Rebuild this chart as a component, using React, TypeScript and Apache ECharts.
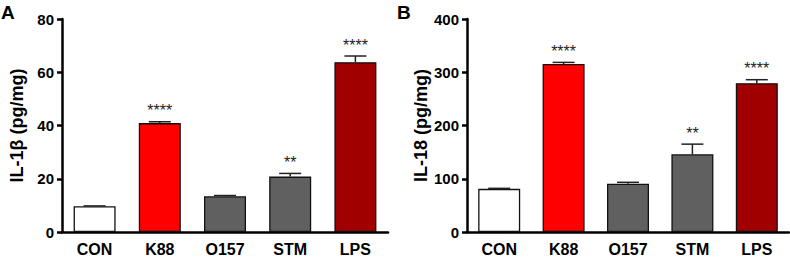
import React, { useEffect, useRef } from "react";
import * as echarts from "echarts";

const categories = ["CON", "K88", "O157", "STM", "LPS"];
const il1bMean = [9.7, 40.9, 13.4, 20.8, 63.8];
const il1bErr = [0.1, 0.5, 0.3, 1.2, 2.3];
const il1bSig = ["", "****", "", "**", "****"];
const il18Mean = [81, 315.5, 90.7, 146, 279.5];
const il18Err = [1, 3, 2.6, 19, 6.5];
const il18Sig = ["", "****", "", "**", "****"];
const barColors = ["#ffffff", "#ff0000", "#606060", "#606060", "#a00000"];

const FONT = "'Liberation Sans', Arial, sans-serif";

function barSeries(idx: number, means: number[]) {
  return {
    type: "bar",
    xAxisIndex: idx,
    yAxisIndex: idx,
    barWidth: 42,
    data: means.map((v, i) => ({
      value: v,
      itemStyle: { color: barColors[i], borderColor: "#111", borderWidth: 1.3 },
    })),
    z: 2,
  };
}

function errSeries(idx: number, means: number[], errs: number[], sigs: string[]) {
  return {
    type: "custom",
    xAxisIndex: idx,
    yAxisIndex: idx,
    z: 3,
    data: means.map((m, i) => [i, m, m + errs[i]]),
    renderItem: (params: any, api: any) => {
      const x = api.value(0);
      const lo = api.coord([x, api.value(1)]);
      const hi = api.coord([x, api.value(2)]);
      const sig = sigs[params.dataIndex];
      const half = 11;
      const children: any[] = [
        {
          type: "line",
          shape: { x1: lo[0], y1: lo[1], x2: hi[0], y2: hi[1] },
          style: { stroke: "#222", lineWidth: 1.5 },
        },
        {
          type: "line",
          shape: { x1: hi[0] - half, y1: hi[1], x2: hi[0] + half, y2: hi[1] },
          style: { stroke: "#222", lineWidth: 1.5 },
        },
      ];
      if (sig) {
        children.push({
          type: "text",
          x: hi[0],
          y: hi[1] - 3,
          style: {
            text: sig,
            fill: "#222",
            font: `normal 16px ${FONT}`,
            textAlign: "center",
            textVerticalAlign: "bottom",
          },
        });
      }
      return { type: "group", children };
    },
  };
}

function xAxis(idx: number) {
  return {
    type: "category",
    gridIndex: idx,
    data: categories,
    axisLine: { lineStyle: { color: "#000", width: 2.5 } },
    axisTick: { alignWithLabel: true, length: 5, lineStyle: { color: "#000", width: 2.5 } },
    axisLabel: { color: "#000", fontWeight: "bold", fontSize: 16, fontFamily: FONT, margin: 9 },
  };
}

function yAxis(idx: number, max: number, interval: number, name: string) {
  return {
    type: "value",
    gridIndex: idx,
    min: 0,
    max,
    interval,
    name,
    nameLocation: "middle",
    nameGap: 36,
    nameTextStyle: { color: "#000", fontWeight: "bold", fontSize: 18, fontFamily: FONT },
    axisLine: { show: true, lineStyle: { color: "#000", width: 2.5 } },
    axisTick: { show: true, length: 5, lineStyle: { color: "#000", width: 2.5 } },
    axisLabel: { color: "#000", fontWeight: "bold", fontSize: 15, fontFamily: FONT, margin: 8 },
    splitLine: { show: false },
  };
}

export default function App() {
  const ref = useRef<HTMLDivElement>(null);
  useEffect(() => {
    document.body.style.margin = "0";
    const chart = echarts.init(ref.current!, undefined, { renderer: "svg" });
    chart.setOption({
      animation: false,
      backgroundColor: "#fff",
      grid: [
        { left: 62, top: 19, width: 326, height: 213 },
        { left: 467, top: 19, width: 322, height: 213 },
      ],
      xAxis: [xAxis(0), xAxis(1)],
      yAxis: [
        yAxis(0, 80, 20, "IL-1β (pg/mg)"),
        yAxis(1, 400, 100, "IL-18 (pg/mg)"),
      ],
      graphic: [
        { type: "text", left: 1, top: 3, style: { text: "A", font: `bold 19px ${FONT}`, fill: "#000" } },
        { type: "text", left: 397, top: 3, style: { text: "B", font: `bold 19px ${FONT}`, fill: "#000" } },
      ],
      series: [
        barSeries(0, il1bMean),
        errSeries(0, il1bMean, il1bErr, il1bSig),
        barSeries(1, il18Mean),
        errSeries(1, il18Mean, il18Err, il18Sig),
      ],
    });
    return () => chart.dispose();
  }, []);
  return <div ref={ref} style={{ width: 790, height: 258 }} />;
}
